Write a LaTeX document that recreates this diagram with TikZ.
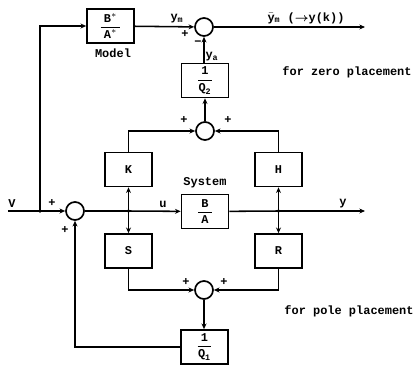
\documentclass[tikz,border=0pt]{standalone}
\usepackage{amsmath}
\usepackage{fontspec}
\setmainfont{Liberation Mono}
\usetikzlibrary{arrows.meta}
\begin{document}
\begin{tikzpicture}[x=0.025cm,y=-0.025cm,
  font=\fontsize{8.5}{10}\selectfont\bfseries,
  blk/.style={draw,line width=1.2pt,minimum width=47*0.025cm,minimum height=34*0.025cm,inner sep=0pt},
  sumc/.style={draw,circle,line width=1.2pt,minimum size=18*0.025cm,inner sep=0pt},
  wire/.style={line width=1.1pt},
  arr/.style={wire,-{Stealth[length=4pt,width=3.5pt]}},
  lbl/.style={inner sep=0pt},
  dot/.style={circle,fill,inner sep=0pt,minimum size=2.8pt}]
\useasboundingbox (0,0) rectangle (417,370);
% blocks
\node[blk] (model) at (110.5,26) {$\dfrac{\;\text{B}^{*}\;}{\text{A}^{*}}$};
\node[lbl] (modell) at (113,53) {Model};
\node[blk] (q2) at (205,80.5) {$\dfrac{\;\text{1}\;}{\text{Q}_{\text{2}}}$};
\node[blk] (k) at (128.5,169.5) {K};
\node[blk] (h) at (278.5,169.5) {H};
\node[blk] (sys) at (205,211.5) {$\dfrac{\;\text{B}\;}{\text{A}}$};
\node[lbl] (sysl) at (205,183) {System};
\node[blk] (s) at (128.5,251) {S};
\node[blk] (r) at (278.5,251) {R};
\node[blk] (q1) at (204.5,347) {$\dfrac{\;\text{1}\;}{\text{Q}_{\text{1}}}$};
% summers
\node[sumc] (t) at (204,27) {};
\node[sumc] (m) at (205,131) {};
\node[sumc] (l) at (75,211) {};
\node[sumc] (b) at (204,290) {};
% coordinates
\coordinate (vin) at (8,211);
\coordinate (j1) at (40,211);
\coordinate (j2) at (128.5,211);
\coordinate (j3) at (278.5,211);
\coordinate (yout) at (365,211);
\coordinate (ymout) at (365,27);
% main path
\draw[wire] (vin) -- (j1);
\draw[arr] (j1) -- (l);
\draw[wire] (l) -- (j2);
\draw[arr] (j2) -- (sys);
\draw[wire] (sys) -- (j3);
\draw[arr] (j3) -- (yout);
\node[dot] at (j1) {};
\node[dot] at (j2) {};
\node[dot] at (j3) {};
% model path
\draw[arr] (j1) |- (model);
\draw[arr] (model) -- (t);
\draw[arr] (t) -- (ymout);
% zero placement
\draw[arr] (j2) -- (k);
\draw[arr] (j3) -- (h);
\draw[arr] (k.north) |- (m);
\draw[arr] (h.north) |- (m);
\draw[arr] (m) -- (q2);
\draw[arr] (q2.north -| t) -- (t);
% pole placement
\draw[arr] (j2) -- (s);
\draw[arr] (j3) -- (r);
\draw[arr] (s.south) |- (b);
\draw[arr] (r.south) |- (b);
\draw[arr] (b) -- (q1.north -| b);
\draw[arr] (q1.west) -| (l);
% labels
\node[lbl] (vl) at (12,204) {V};
\node[lbl] (p1) at (52,203) {+};
\node[lbl] (p2) at (65,230) {+};
\node[lbl] (ul) at (163,204) {u};
\node[lbl] (yl) at (343,204) {y};
\node[lbl] (yml) at (177,19) {y\textsubscript{m}};
\node[lbl] (p3) at (185,34) {+};
\node[lbl] (mn) at (198,43) {\textminus};
\node[lbl] (yal) at (212,57) {y\textsubscript{a}};
\node[lbl] (ybl) at (306,18) {$\bar{\text{y}}$\textsubscript{m} ($\boldsymbol{\rightarrow}$y(k))};
\node[lbl] (p4) at (184,120) {+};
\node[lbl] (p5) at (228,120) {+};
\node[lbl] (p6) at (186,282) {+};
\node[lbl] (p7) at (224,282) {+};
\node[lbl] (zero) at (347,72) {for zero placement};
\node[lbl] (pole) at (349,311) {for pole placement};
\end{tikzpicture}
\end{document}
